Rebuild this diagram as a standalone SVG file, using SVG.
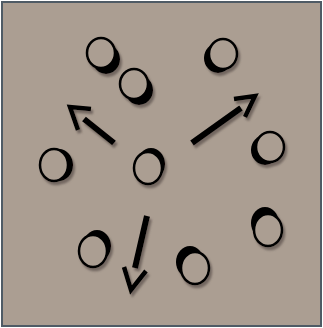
<svg xmlns="http://www.w3.org/2000/svg" width="323" height="328" viewBox="0 0 323 328">
<defs>
<style>
.bg{fill:#ab9e92;stroke:#4f5b65;stroke-width:2}
.cres{fill:#000}
.ring{fill:#ab9e92;stroke:#000;stroke-width:2.5}
.shaft{stroke:#000;stroke-width:6;fill:none}
.head{stroke:#000;stroke-width:4.5;fill:none;stroke-linejoin:miter;stroke-miterlimit:10;stroke-linecap:butt}
</style>
<filter id="sh" x="-30%" y="-30%" width="160%" height="160%">
<feDropShadow dx="2" dy="3" stdDeviation="1.3" flood-color="#5e554f" flood-opacity="0.75"/>
</filter>
</defs>
<rect class="bg" x="2" y="2" width="319" height="324"/>
<g id="n1" filter="url(#sh)"><ellipse class="cres" cx="106" cy="59" rx="14" ry="15"/><ellipse class="ring" cx="101" cy="53" rx="14" ry="15"/></g>
<g id="n2" filter="url(#sh)"><ellipse class="cres" cx="139" cy="90" rx="14" ry="15"/><ellipse class="ring" cx="134" cy="84" rx="14" ry="15"/></g>
<g id="n3" filter="url(#sh)"><ellipse class="cres" cx="218" cy="58" rx="14" ry="15"/><ellipse class="ring" cx="223" cy="54" rx="14" ry="15"/></g>
<g id="n4" filter="url(#sh)"><ellipse class="cres" cx="59" cy="165" rx="14" ry="16"/><ellipse class="ring" cx="54" cy="165" rx="14" ry="16"/></g>
<g id="n5" filter="url(#sh)"><ellipse class="cres" cx="151" cy="164" rx="14" ry="16"/><ellipse class="ring" cx="148" cy="168" rx="14" ry="16"/></g>
<g id="n6" filter="url(#sh)"><ellipse class="cres" cx="265" cy="150" rx="14" ry="15"/><ellipse class="ring" cx="270" cy="147" rx="14" ry="15"/></g>
<g id="n7" filter="url(#sh)"><ellipse class="cres" cx="265" cy="223" rx="14" ry="16"/><ellipse class="ring" cx="268" cy="230" rx="14" ry="16"/></g>
<g id="n8" filter="url(#sh)"><ellipse class="cres" cx="190" cy="262" rx="14" ry="16"/><ellipse class="ring" cx="195" cy="268" rx="14" ry="16"/></g>
<g id="n9" filter="url(#sh)"><ellipse class="cres" cx="97" cy="246" rx="14" ry="16"/><ellipse class="ring" cx="93" cy="251" rx="14" ry="16"/></g>
<g id="connectors" filter="url(#sh)">
<line class="shaft" x1="114" y1="143" x2="84" y2="119"/>
<polyline class="head" points="91,109 70,107 78,130"/>
<line class="shaft" x1="192" y1="143" x2="241" y2="108"/>
<polyline class="head" points="234,99 255,96 245,117"/>
<line class="shaft" x1="147" y1="216" x2="135" y2="268"/>
<polyline class="head" points="124,267 131,290 146,271"/>
</g>
</svg>
